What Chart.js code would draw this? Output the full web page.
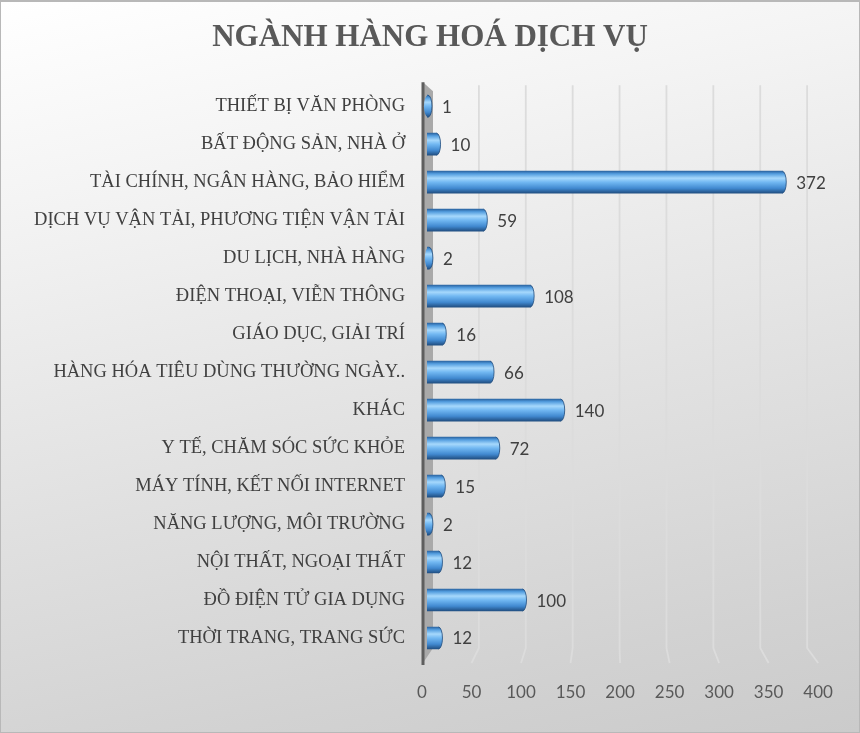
<!DOCTYPE html>
<html>
<head>
<meta charset="utf-8">
<script src="https://cdn.jsdelivr.net/npm/chart.js@4/dist/chart.umd.js"></script>
<style>
    html, body { margin: 0; padding: 0; }
    #wrap {
        width: 860px;
        height: 733px;
        box-sizing: border-box;
        border: 1px solid #b8b8b8;
        border-top-width: 2px;
        background: linear-gradient(168deg, #ffffff 0%, #f4f4f4 22%, #e2e2e2 55%, #d2d2d2 85%, #cbcbcb 100%);
        position: relative;
    }
    canvas { position: absolute; left: -1px; top: -2px; }
</style>
</head>
<body>
<div id="wrap"><canvas id="chart" width="860" height="733"></canvas></div>
<script>
const categories = [
    'THIẾT BỊ VĂN PHÒNG',
    'BẤT ĐỘNG SẢN, NHÀ Ở',
    'TÀI CHÍNH, NGÂN HÀNG, BẢO HIỂM',
    'DỊCH VỤ VẬN TẢI, PHƯƠNG TIỆN VẬN TẢI',
    'DU LỊCH, NHÀ HÀNG',
    'ĐIỆN THOẠI, VIỄN THÔNG',
    'GIÁO DỤC, GIẢI TRÍ',
    'HÀNG HÓA TIÊU DÙNG THƯỜNG NGÀY..',
    'KHÁC',
    'Y TẾ, CHĂM SÓC SỨC KHỎE',
    'MÁY TÍNH, KẾT NỐI INTERNET',
    'NĂNG LƯỢNG, MÔI TRƯỜNG',
    'NỘI THẤT, NGOẠI THẤT',
    'ĐỒ ĐIỆN TỬ GIA DỤNG',
    'THỜI TRANG, TRANG SỨC'
];
const counts = [1, 10, 372, 59, 2, 108, 16, 66, 140, 72, 15, 2, 12, 100, 12];
const axisMin = 0;
const axisMax = 400;
const axisStep = 50;

const BAR_H = 22;
const CAP_RX = 4;
const NUM_FONT = '17px Lato, "Open Sans", sans-serif';

// the value scale is the middle plane; back wall and floor front are offset from it
function backX(area, p) { return area.left + 5 + (p - area.left) * 0.982; }
function frontX(area, p) { return area.left - 5 + (p - area.left) * 1.037; }

function barGradient(ctx, top, bottom) {
    let g = ctx.createLinearGradient(0, top, 0, bottom);
    g.addColorStop(0, '#2c66a3');
    g.addColorStop(0.12, '#539ddf');
    g.addColorStop(0.32, '#a6d8fc');
    g.addColorStop(0.5, '#72b8f2');
    g.addColorStop(0.78, '#4189d0');
    g.addColorStop(1, '#214f82');
    return g;
}

const scene3d = {
    id: 'scene3d',
    beforeDatasetsDraw(chart) {
        const ctx = chart.ctx;
        const area = chart.chartArea;
        const xs = chart.scales.x;
        const wallTop = area.top - 2;
        const wallBottom = area.bottom - 9;
        const floorFront = area.bottom + 6;

        ctx.save();
        // grid lines on the back wall, then slanting across the floor
        ctx.strokeStyle = '#dcdcdc';
        ctx.lineWidth = 1.8;
        xs.ticks.forEach(t => {
            if (t.value === axisMin) return;
            let p = xs.getPixelForValue(t.value);
            ctx.beginPath();
            ctx.moveTo(backX(area, p), wallTop);
            ctx.lineTo(backX(area, p), wallBottom);
            ctx.lineTo(frontX(area, p), floorFront);
            ctx.stroke();
        });

        // side wall
        let l = frontX(area, area.left);
        let b = backX(area, area.left);
        ctx.fillStyle = '#a9a9a9';
        ctx.beginPath();
        ctx.moveTo(l + 1, wallTop - 3);
        ctx.lineTo(b + 1, wallTop + 6);
        ctx.lineTo(b + 1, wallBottom);
        ctx.lineTo(l + 1, floorFront);
        ctx.closePath();
        ctx.fill();

        ctx.strokeStyle = '#5e5e5e';
        ctx.lineWidth = 3;
        ctx.beginPath();
        ctx.moveTo(l + 1, wallTop - 3);
        ctx.lineTo(l + 1, floorFront + 2);
        ctx.stroke();
        ctx.restore();
    },
    afterDatasetsDraw(chart) {
        const ctx = chart.ctx;
        const area = chart.chartArea;
        const xs = chart.scales.x;
        const meta = chart.getDatasetMeta(0);

        ctx.save();
        meta.data.forEach((bar, i) => {
            let top = bar.y - BAR_H / 2;
            let bottom = bar.y + BAR_H / 2;
            // end cap of the cylinder
            ctx.fillStyle = barGradient(ctx, top, bottom);
            ctx.beginPath();
            ctx.ellipse(bar.x, bar.y, CAP_RX, BAR_H / 2, 0, 0, Math.PI * 2);
            ctx.fill();
            ctx.strokeStyle = 'rgba(30,75,125,0.8)';
            ctx.lineWidth = 1;
            ctx.beginPath();
            ctx.ellipse(bar.x, bar.y, CAP_RX, BAR_H / 2, 0, -Math.PI / 2, Math.PI / 2);
            ctx.stroke();

            ctx.fillStyle = '#404040';
            ctx.font = NUM_FONT;
            ctx.textAlign = 'left';
            ctx.textBaseline = 'middle';
            ctx.fillText(String(counts[i]), bar.x + CAP_RX + 10, bar.y + 1);
        });

        // value axis labels sit on the front edge of the floor
        ctx.fillStyle = '#595959';
        ctx.font = NUM_FONT;
        ctx.textAlign = 'center';
        ctx.textBaseline = 'middle';
        xs.ticks.forEach(t => {
            let p = xs.getPixelForValue(t.value);
            ctx.fillText(String(t.value), frontX(area, p), area.bottom + 36);
        });
        ctx.restore();
    }
};

new Chart(document.getElementById('chart'), {
    type: 'bar',
    data: {
        labels: categories,
        datasets: [{
            label: 'Ngành hàng',
            data: counts,
            barThickness: BAR_H,
            borderWidth: 0,
            backgroundColor: function (context) {
                const chart = context.chart;
                if (!chart.chartArea) {
                    return '#4f98dc';
                }
                let c = chart.scales.y.getPixelForValue(context.dataIndex);
                return barGradient(chart.ctx, c - BAR_H / 2, c + BAR_H / 2);
            }
        }]
    },
    options: {
        indexAxis: 'y',
        responsive: false,
        animation: false,
        devicePixelRatio: 1,
        layout: {
            padding: 0
        },
        plugins: {
            legend: { display: false },
            tooltip: { enabled: false },
            title: {
                display: true,
                text: 'NGÀNH HÀNG HOÁ DỊCH VỤ',
                color: '#595959',
                font: { family: '"Liberation Serif", "DejaVu Serif", serif', size: 31, weight: 'bold' },
                padding: { top: 19, bottom: 31 }
            }
        },
        scales: {
            x: {
                min: axisMin,
                max: axisMax,
                ticks: { stepSize: axisStep, display: false },
                grid: { display: false },
                border: { display: false },
                afterFit: function (scale) { scale.height = 76; }
            },
            y: {
                grid: { display: false, drawTicks: false },
                border: { display: false },
                ticks: {
                    color: '#404040',
                    padding: 22,
                    autoSkip: false,
                    font: { family: '"Liberation Serif", "DejaVu Serif", serif', size: 18.5 }
                },
                afterFit: function (scale) { scale.width = 427; }
            },
            // empty right-hand axis keeps the plot narrow while the title stays centred on the page
            yRight: {
                type: 'linear',
                axis: 'y',
                position: 'right',
                ticks: { display: false },
                grid: { display: false },
                border: { display: false },
                afterFit: function (scale) { scale.width = 51; }
            }
        }
    },
    plugins: [scene3d]
});
</script>
</body>
</html>
